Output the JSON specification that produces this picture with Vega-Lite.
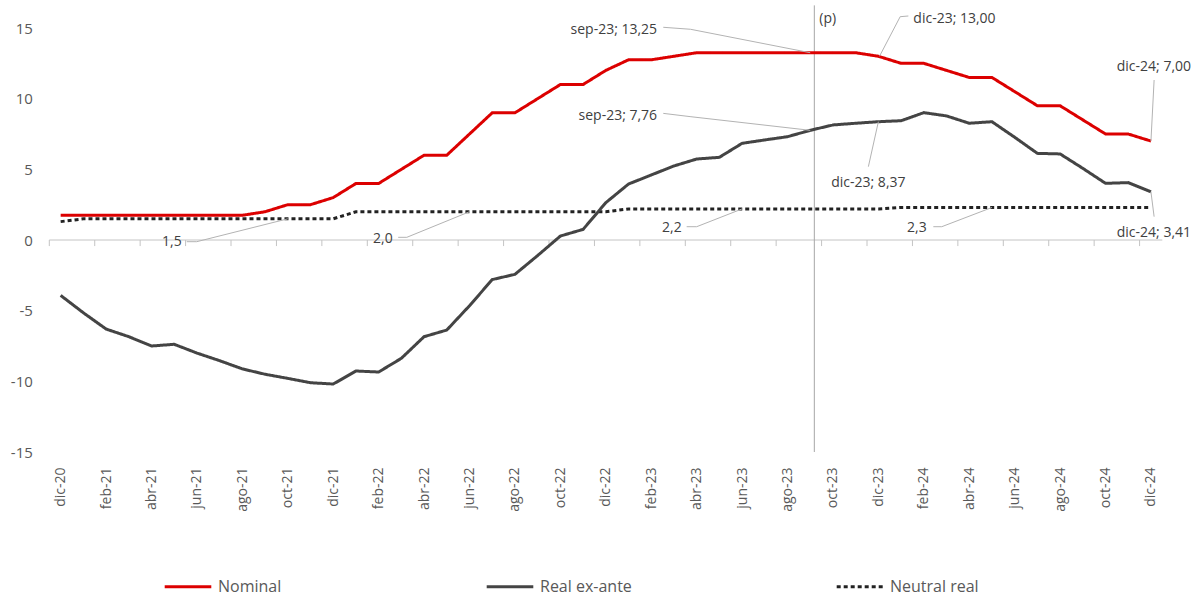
{
  "$schema": "https://vega.github.io/schema/vega-lite/v6.json",
  "width": 1113,
  "height": 424,
  "autosize": {"type": "none"},
  "padding": {"left": 49.3, "top": 28, "right": 37.7, "bottom": 144},
  "background": "white",
  "config": {
    "view": {"stroke": null},
    "font": "Open Sans",
    "axis": {"labelFont": "Open Sans", "labelColor": "#595959"},
    "text": {"font": "Open Sans"}
  },
  "datasets": {
    "tasas": [
      {"n": 0, "mes": "dic-20", "Nominal": 1.75, "Real ex-ante": -3.92, "Neutral real": 1.3},
      {"n": 1, "mes": "ene-21", "Nominal": 1.75, "Real ex-ante": -5.15, "Neutral real": 1.5},
      {"n": 2, "mes": "feb-21", "Nominal": 1.75, "Real ex-ante": -6.3, "Neutral real": 1.5},
      {"n": 3, "mes": "mar-21", "Nominal": 1.75, "Real ex-ante": -6.84, "Neutral real": 1.5},
      {"n": 4, "mes": "abr-21", "Nominal": 1.75, "Real ex-ante": -7.5, "Neutral real": 1.5},
      {"n": 5, "mes": "may-21", "Nominal": 1.75, "Real ex-ante": -7.38, "Neutral real": 1.5},
      {"n": 6, "mes": "jun-21", "Nominal": 1.75, "Real ex-ante": -8.0, "Neutral real": 1.5},
      {"n": 7, "mes": "jul-21", "Nominal": 1.75, "Real ex-ante": -8.54, "Neutral real": 1.5},
      {"n": 8, "mes": "ago-21", "Nominal": 1.75, "Real ex-ante": -9.12, "Neutral real": 1.5},
      {"n": 9, "mes": "sep-21", "Nominal": 2.0, "Real ex-ante": -9.5, "Neutral real": 1.5},
      {"n": 10, "mes": "oct-21", "Nominal": 2.5, "Real ex-ante": -9.79, "Neutral real": 1.5},
      {"n": 11, "mes": "nov-21", "Nominal": 2.5, "Real ex-ante": -10.1, "Neutral real": 1.5},
      {"n": 12, "mes": "dic-21", "Nominal": 3.0, "Real ex-ante": -10.19, "Neutral real": 1.5},
      {"n": 13, "mes": "ene-22", "Nominal": 4.0, "Real ex-ante": -9.27, "Neutral real": 2.0},
      {"n": 14, "mes": "feb-22", "Nominal": 4.0, "Real ex-ante": -9.34, "Neutral real": 2.0},
      {"n": 15, "mes": "mar-22", "Nominal": 5.0, "Real ex-ante": -8.37, "Neutral real": 2.0},
      {"n": 16, "mes": "abr-22", "Nominal": 6.0, "Real ex-ante": -6.84, "Neutral real": 2.0},
      {"n": 17, "mes": "may-22", "Nominal": 6.0, "Real ex-ante": -6.37, "Neutral real": 2.0},
      {"n": 18, "mes": "jun-22", "Nominal": 7.5, "Real ex-ante": -4.65, "Neutral real": 2.0},
      {"n": 19, "mes": "jul-22", "Nominal": 9.0, "Real ex-ante": -2.8, "Neutral real": 2.0},
      {"n": 20, "mes": "ago-22", "Nominal": 9.0, "Real ex-ante": -2.43, "Neutral real": 2.0},
      {"n": 21, "mes": "sep-22", "Nominal": 10.0, "Real ex-ante": -1.1, "Neutral real": 2.0},
      {"n": 22, "mes": "oct-22", "Nominal": 11.0, "Real ex-ante": 0.28, "Neutral real": 2.0},
      {"n": 23, "mes": "nov-22", "Nominal": 11.0, "Real ex-ante": 0.75, "Neutral real": 2.0},
      {"n": 24, "mes": "dic-22", "Nominal": 12.0, "Real ex-ante": 2.64, "Neutral real": 2.0},
      {"n": 25, "mes": "ene-23", "Nominal": 12.75, "Real ex-ante": 3.96, "Neutral real": 2.2},
      {"n": 26, "mes": "feb-23", "Nominal": 12.75, "Real ex-ante": 4.6, "Neutral real": 2.2},
      {"n": 27, "mes": "mar-23", "Nominal": 13.0, "Real ex-ante": 5.24, "Neutral real": 2.2},
      {"n": 28, "mes": "abr-23", "Nominal": 13.25, "Real ex-ante": 5.73, "Neutral real": 2.2},
      {"n": 29, "mes": "may-23", "Nominal": 13.25, "Real ex-ante": 5.85, "Neutral real": 2.2},
      {"n": 30, "mes": "jun-23", "Nominal": 13.25, "Real ex-ante": 6.84, "Neutral real": 2.2},
      {"n": 31, "mes": "jul-23", "Nominal": 13.25, "Real ex-ante": 7.08, "Neutral real": 2.2},
      {"n": 32, "mes": "ago-23", "Nominal": 13.25, "Real ex-ante": 7.31, "Neutral real": 2.2},
      {"n": 33, "mes": "sep-23", "Nominal": 13.25, "Real ex-ante": 7.76, "Neutral real": 2.2},
      {"n": 34, "mes": "oct-23", "Nominal": 13.25, "Real ex-ante": 8.14, "Neutral real": 2.2},
      {"n": 35, "mes": "nov-23", "Nominal": 13.25, "Real ex-ante": 8.26, "Neutral real": 2.2},
      {"n": 36, "mes": "dic-23", "Nominal": 13.0, "Real ex-ante": 8.37, "Neutral real": 2.2},
      {"n": 37, "mes": "ene-24", "Nominal": 12.5, "Real ex-ante": 8.44, "Neutral real": 2.3},
      {"n": 38, "mes": "feb-24", "Nominal": 12.5, "Real ex-ante": 9.01, "Neutral real": 2.3},
      {"n": 39, "mes": "mar-24", "Nominal": 12.0, "Real ex-ante": 8.78, "Neutral real": 2.3},
      {"n": 40, "mes": "abr-24", "Nominal": 11.5, "Real ex-ante": 8.26, "Neutral real": 2.3},
      {"n": 41, "mes": "may-24", "Nominal": 11.5, "Real ex-ante": 8.37, "Neutral real": 2.3},
      {"n": 42, "mes": "jun-24", "Nominal": 10.5, "Real ex-ante": 7.27, "Neutral real": 2.3},
      {"n": 43, "mes": "jul-24", "Nominal": 9.5, "Real ex-ante": 6.13, "Neutral real": 2.3},
      {"n": 44, "mes": "ago-24", "Nominal": 9.5, "Real ex-ante": 6.09, "Neutral real": 2.3},
      {"n": 45, "mes": "sep-24", "Nominal": 8.5, "Real ex-ante": 5.07, "Neutral real": 2.3},
      {"n": 46, "mes": "oct-24", "Nominal": 7.5, "Real ex-ante": 4.01, "Neutral real": 2.3},
      {"n": 47, "mes": "nov-24", "Nominal": 7.5, "Real ex-ante": 4.06, "Neutral real": 2.3},
      {"n": 48, "mes": "dic-24", "Nominal": 7.0, "Real ex-ante": 3.41, "Neutral real": 2.3}
    ],
    "guias": [
      {"id": 1, "k": 1, "n": 26.53, "v": 15.05},
      {"id": 1, "k": 2, "n": 27.73, "v": 14.91},
      {"id": 1, "k": 3, "n": 33.0, "v": 13.25},
      {"id": 2, "k": 1, "n": 26.53, "v": 8.96},
      {"id": 2, "k": 2, "n": 27.71, "v": 8.73},
      {"id": 2, "k": 3, "n": 33.0, "v": 7.76},
      {"id": 3, "k": 1, "n": 37.32, "v": 15.85},
      {"id": 3, "k": 2, "n": 36.96, "v": 15.8},
      {"id": 3, "k": 3, "n": 36.05, "v": 13.0},
      {"id": 4, "k": 1, "n": 35.56, "v": 5.19},
      {"id": 4, "k": 2, "n": 36.0, "v": 8.37},
      {"id": 5, "k": 1, "n": 48.14, "v": 11.32},
      {"id": 5, "k": 2, "n": 48.0, "v": 7.0},
      {"id": 6, "k": 1, "n": 48.0, "v": 3.41},
      {"id": 6, "k": 2, "n": 48.14, "v": 1.65},
      {"id": 7, "k": 1, "n": 5.55, "v": -0.12},
      {"id": 7, "k": 2, "n": 5.99, "v": -0.12},
      {"id": 7, "k": 3, "n": 10.0, "v": 1.5},
      {"id": 8, "k": 1, "n": 14.86, "v": 0.19},
      {"id": 8, "k": 2, "n": 15.24, "v": 0.19},
      {"id": 8, "k": 3, "n": 18.0, "v": 2.0},
      {"id": 9, "k": 1, "n": 27.56, "v": 0.94},
      {"id": 9, "k": 2, "n": 28.0, "v": 0.94},
      {"id": 9, "k": 3, "n": 30.0, "v": 2.2},
      {"id": 10, "k": 1, "n": 38.42, "v": 0.94},
      {"id": 10, "k": 2, "n": 38.79, "v": 0.94},
      {"id": 10, "k": 3, "n": 41.0, "v": 2.3}
    ]
  },
  "resolve": {"scale": {"x": "independent"}, "axis": {"x": "independent"}},
  "layer": [
    {
      "data": {"values": [{"eje": "cero"}]},
      "mark": {"type": "rule", "color": "#c4c4c4", "strokeWidth": 1},
      "encoding": {
        "x": {"datum": -0.5, "type": "quantitative", "scale": {"domain": [-0.5, 48.5], "nice": false, "zero": false}, "axis": null},
        "x2": {"datum": 48.5},
        "y": {"datum": 0, "type": "quantitative", "scale": {"domain": [-15, 15], "nice": false}, "axis": {"title": null}}
      }
    },
    {
      "data": {"name": "tasas"},
      "transform": [{"filter": "datum.n % 2 == 0"}],
      "mark": {"type": "rule", "color": "#c4c4c4", "strokeWidth": 1, "xOffset": -11.36},
      "encoding": {
        "x": {"field": "n", "type": "quantitative", "scale": {"domain": [-0.5, 48.5], "nice": false, "zero": false}, "axis": null},
        "y": {"datum": 0, "type": "quantitative", "scale": {"domain": [-15, 15], "nice": false}, "axis": {"title": null}},
        "y2": {"datum": -0.43}
      }
    },
    {
      "data": {"values": [{"marca": "(p)"}]},
      "mark": {"type": "rule", "color": "#a6a6a6", "strokeWidth": 1},
      "encoding": {
        "x": {"datum": 33.18, "type": "quantitative", "scale": {"domain": [-0.5, 48.5], "nice": false, "zero": false}, "axis": null},
        "y": {"datum": -15, "type": "quantitative", "scale": {"domain": [-15, 15], "nice": false}, "axis": {"title": null}},
        "y2": {"datum": 16.6}
      }
    },
    {
      "data": {"name": "tasas"},
      "transform": [{"fold": ["Neutral real", "Real ex-ante", "Nominal"], "as": ["serie", "valor"]}],
      "mark": {"type": "line", "strokeJoin": "miter", "strokeCap": "butt"},
      "encoding": {
        "x": {
          "field": "n", "type": "quantitative",
          "scale": {"domain": [-0.5, 48.5], "nice": false, "zero": false},
          "axis": {
            "title": null, "orient": "bottom",
            "values": [0, 2, 4, 6, 8, 10, 12, 14, 16, 18, 20, 22, 24, 26, 28, 30, 32, 34, 36, 38, 40, 42, 44, 46, 48],
            "labelExpr": "['ene','feb','mar','abr','may','jun','jul','ago','sep','oct','nov','dic'][(datum.value + 11) % 12] + '-' + (20 + floor((datum.value + 11) / 12))",
            "labelAngle": -90, "labelFontSize": 14, "labelPadding": 15,
            "ticks": false, "domain": false, "grid": false, "labelFlush": false, "labelOverlap": false
          }
        },
        "y": {
          "field": "valor", "type": "quantitative",
          "scale": {"domain": [-15, 15], "nice": false},
          "axis": {"title": null, "values": [-15, -10, -5, 0, 5, 10, 15], "labelExpr": "'' + datum.value", "labelFontSize": 15, "labelPadding": 17, "ticks": false, "domain": false, "grid": false}
        },
        "color": {
          "field": "serie", "type": "nominal",
          "scale": {"domain": ["Nominal", "Real ex-ante", "Neutral real"], "range": ["#dc0000", "#444444", "#222222"]},
          "legend": {
            "title": null, "orient": "none", "legendX": 113.7, "legendY": 533.7,
            "direction": "horizontal", "columnPadding": 198, "gridAlign": "none",
            "symbolType": "stroke", "symbolSize": 2172, "labelOffset": 5,
            "labelFontSize": 16, "labelColor": "#595959", "labelFont": "Open Sans", "padding": 0
          }
        },
        "strokeDash": {
          "field": "serie", "type": "nominal",
          "scale": {"domain": ["Nominal", "Real ex-ante", "Neutral real"], "range": [[1, 0], [1, 0], [4, 3]]},
          "legend": {"title": null}
        },
        "strokeWidth": {
          "field": "serie", "type": "nominal",
          "scale": {"domain": ["Nominal", "Real ex-ante", "Neutral real"], "range": [3, 3, 1]},
          "legend": {"title": null}
        }
      }
    },
    {
      "data": {"name": "guias"},
      "mark": {"type": "line", "color": "#b3b3b3", "strokeWidth": 1},
      "encoding": {
        "x": {"field": "n", "type": "quantitative", "scale": {"domain": [-0.5, 48.5], "nice": false, "zero": false}, "axis": null},
        "y": {"field": "v", "type": "quantitative", "scale": {"domain": [-15, 15], "nice": false}, "axis": {"title": null}},
        "detail": {"field": "id", "type": "nominal"},
        "order": {"field": "k", "type": "quantitative"}
      }
    },
    {
      "data": {"values": [
        {"txt": "sep-23; 13,25", "n": 26.26, "v": 14.86},
        {"txt": "sep-23; 7,76", "n": 26.26, "v": 8.8},
        {"txt": "1,5", "n": 5.33, "v": -0.17},
        {"txt": "2,0", "n": 14.62, "v": 0.07},
        {"txt": "2,2", "n": 27.34, "v": 0.85},
        {"txt": "2,3", "n": 38.13, "v": 0.85}
      ]},
      "mark": {"type": "text", "align": "right", "baseline": "middle", "fontSize": 14, "color": "#404040"},
      "encoding": {
        "x": {"field": "n", "type": "quantitative", "scale": {"domain": [-0.5, 48.5], "nice": false, "zero": false}, "axis": null},
        "y": {"field": "v", "type": "quantitative", "scale": {"domain": [-15, 15], "nice": false}, "axis": {"title": null}},
        "text": {"field": "txt", "type": "nominal"}
      }
    },
    {
      "data": {"values": [
        {"txt": "dic-23; 13,00", "n": 37.54, "v": 15.64},
        {"txt": "(p)", "n": 33.4, "v": 15.64}
      ]},
      "mark": {"type": "text", "align": "left", "baseline": "middle", "fontSize": 14, "color": "#404040"},
      "encoding": {
        "x": {"field": "n", "type": "quantitative", "scale": {"domain": [-0.5, 48.5], "nice": false, "zero": false}, "axis": null},
        "y": {"field": "v", "type": "quantitative", "scale": {"domain": [-15, 15], "nice": false}, "axis": {"title": null}},
        "text": {"field": "txt", "type": "nominal"}
      }
    },
    {
      "data": {"values": [
        {"txt": "dic-23; 8,37", "n": 35.56, "v": 4.05},
        {"txt": "dic-24; 7,00", "n": 48.13, "v": 12.26},
        {"txt": "dic-24; 3,41", "n": 48.13, "v": 0.47}
      ]},
      "mark": {"type": "text", "align": "center", "baseline": "middle", "fontSize": 14, "color": "#404040"},
      "encoding": {
        "x": {"field": "n", "type": "quantitative", "scale": {"domain": [-0.5, 48.5], "nice": false, "zero": false}, "axis": null},
        "y": {"field": "v", "type": "quantitative", "scale": {"domain": [-15, 15], "nice": false}, "axis": {"title": null}},
        "text": {"field": "txt", "type": "nominal"}
      }
    }
  ]
}
